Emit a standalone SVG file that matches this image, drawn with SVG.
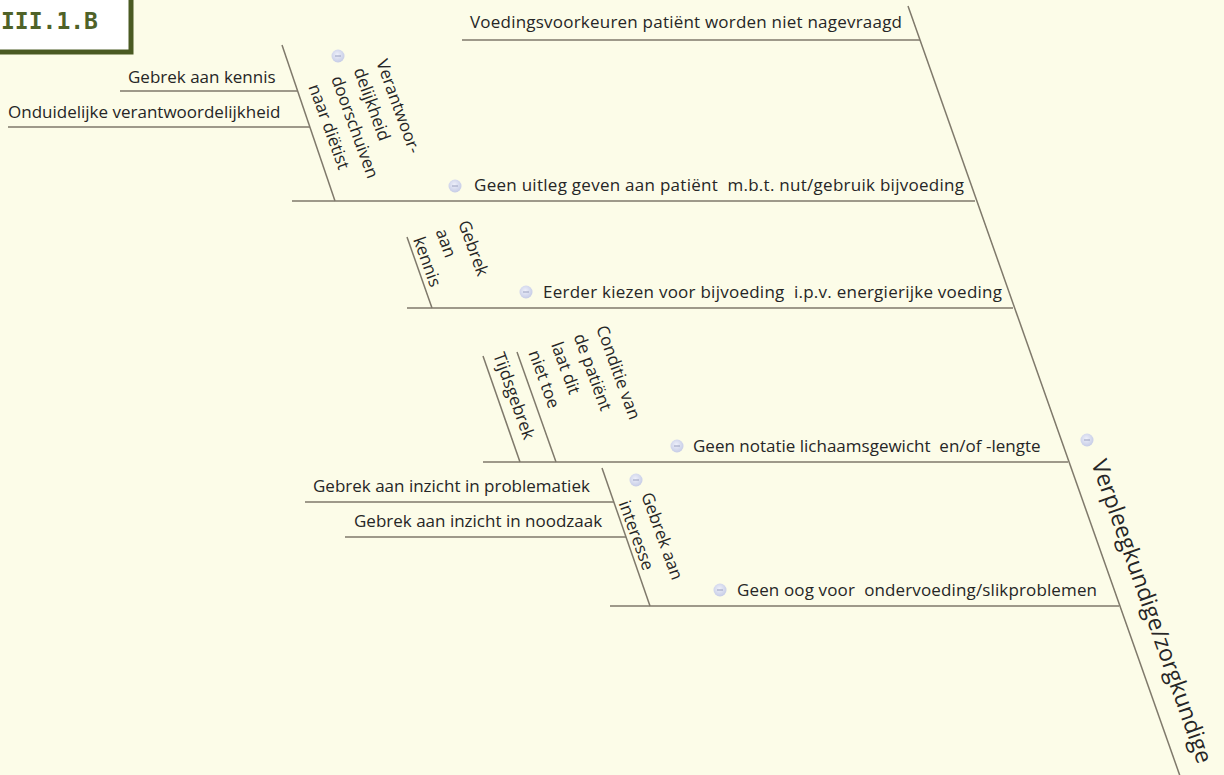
<svg xmlns="http://www.w3.org/2000/svg" width="1224" height="775" viewBox="0 0 1224 775">
  <defs>
    <style>
      .bg { fill: #fcfce8; }
      .ln { stroke: #7f796b; stroke-width: 1.5; fill: none; }
      .lbl { font-family: "Open Sans", "Noto Sans", "DejaVu Sans", sans-serif; font-size: 17px; fill: #262626; white-space: pre; }
      .spine-lbl { font-family: "Open Sans", "Noto Sans", "DejaVu Sans", sans-serif; font-size: 23px; fill: #262626; }
      .tag { font-family: "DejaVu Sans Mono", "Liberation Mono", monospace; font-weight: bold; font-size: 23px; fill: #4f6228; }
    </style>
    <radialGradient id="iconFill" cx="0.45" cy="0.4" r="0.6">
      <stop offset="0" stop-color="#eef0fa"/>
      <stop offset="1" stop-color="#c6cce6"/>
    </radialGradient>
    <!-- collapse toggle shown next to expandable topics -->
    <g id="toggle">
      <circle r="6.5" fill="url(#iconFill)"/>
      <line x1="-3" y1="0" x2="3" y2="0" stroke="#9aa0bf" stroke-width="1"/>
    </g>
  </defs>

  <rect class="bg" x="0" y="0" width="1224" height="775"/>

  <!-- section tag -->
  <g id="tag">
    <rect x="-10" y="-10" width="141" height="62" fill="#ffffff" stroke="#4a5a22" stroke-width="5"/>
    <text class="tag" x="1" y="29">III.1.B</text>
  </g>

  <!-- all connectors -->
  <g id="connectors">
    <!-- spine -->
    <line class="ln" x1="908" y1="6" x2="1180" y2="776"/>
    <!-- main branches -->
    <line class="ln" x1="462" y1="40" x2="920" y2="40"/>
    <line class="ln" x1="292" y1="201" x2="975" y2="201"/>
    <line class="ln" x1="407" y1="308" x2="1013" y2="308"/>
    <line class="ln" x1="483" y1="462" x2="1068" y2="462"/>
    <line class="ln" x1="610" y1="606" x2="1119" y2="606"/>
    <!-- sub-branches -->
    <line class="ln" x1="282" y1="45" x2="335" y2="201"/>
    <line class="ln" x1="120" y1="91" x2="297.5" y2="91"/>
    <line class="ln" x1="8" y1="127" x2="310" y2="127"/>
    <line class="ln" x1="407" y1="237" x2="432" y2="308"/>
    <line class="ln" x1="483" y1="356" x2="520" y2="462"/>
    <line class="ln" x1="517" y1="352" x2="556" y2="462"/>
    <line class="ln" x1="602" y1="468" x2="650" y2="606"/>
    <line class="ln" x1="305" y1="502" x2="614" y2="502"/>
    <line class="ln" x1="345" y1="537" x2="626" y2="537"/>
  </g>

  <g id="spine-topic">
    <use href="#toggle" x="1087" y="440"/>
    <text class="spine-lbl" transform="translate(1091,463) rotate(70.5)">Verpleegkundige/zorgkundige</text>
  </g>

  <g id="voorkeuren">
    <text class="lbl" x="470" y="28" textLength="432" lengthAdjust="spacing">Voedingsvoorkeuren patiënt worden niet nagevraagd</text>
  </g>

  <g id="uitleg">
    <use href="#toggle" x="455" y="186"/>
    <text class="lbl" x="474" y="191" textLength="490" lengthAdjust="spacing">Geen uitleg geven aan patiënt  m.b.t. nut/gebruik bijvoeding</text>
  </g>

  <g id="doorschuiven">
    <use href="#toggle" x="338" y="56"/>
    <text class="lbl" transform="translate(376,62) rotate(70)"><tspan x="0" y="0">Verantwoor-</tspan><tspan x="0" dy="24">delijkheid</tspan><tspan x="0" dy="24">doorschuiven</tspan><tspan x="0" dy="24">naar diëtist</tspan></text>
  </g>

  <g id="kennis-1">
    <text class="lbl" x="128" y="83">Gebrek aan kennis</text>
  </g>

  <g id="verantwoordelijkheid">
    <text class="lbl" x="8" y="118">Onduidelijke verantwoordelijkheid</text>
  </g>

  <g id="bijvoeding">
    <use href="#toggle" x="526" y="292"/>
    <text class="lbl" x="543" y="298" textLength="459" lengthAdjust="spacing">Eerder kiezen voor bijvoeding  i.p.v. energierijke voeding</text>
  </g>

  <g id="kennis-2">
    <text class="lbl" transform="translate(458,223) rotate(70)"><tspan x="0" y="0">Gebrek</tspan><tspan x="0" dy="24">aan</tspan><tspan x="0" dy="24">kennis</tspan></text>
  </g>

  <g id="notatie">
    <use href="#toggle" x="677" y="446"/>
    <text class="lbl" x="693" y="452">Geen notatie lichaamsgewicht  en/of -lengte</text>
  </g>

  <g id="tijdsgebrek">
    <text class="lbl" transform="translate(493,355) rotate(70)">Tijdsgebrek</text>
  </g>

  <g id="conditie">
    <text class="lbl" transform="translate(596,328) rotate(70)"><tspan x="0" y="0">Conditie van</tspan><tspan x="0" dy="24">de patiënt</tspan><tspan x="0" dy="24">laat dit</tspan><tspan x="0" dy="24">niet toe</tspan></text>
  </g>

  <g id="ondervoeding">
    <use href="#toggle" x="720" y="590"/>
    <text class="lbl" x="737" y="596" textLength="360" lengthAdjust="spacing">Geen oog voor  ondervoeding/slikproblemen</text>
  </g>

  <g id="interesse">
    <use href="#toggle" x="636" y="480"/>
    <text class="lbl" transform="translate(641,495) rotate(70)"><tspan x="0" y="0">Gebrek aan</tspan><tspan x="0" dy="24">interesse</tspan></text>
  </g>

  <g id="problematiek">
    <text class="lbl" x="313" y="492">Gebrek aan inzicht in problematiek</text>
  </g>

  <g id="noodzaak">
    <text class="lbl" x="354" y="527">Gebrek aan inzicht in noodzaak</text>
  </g>
</svg>
